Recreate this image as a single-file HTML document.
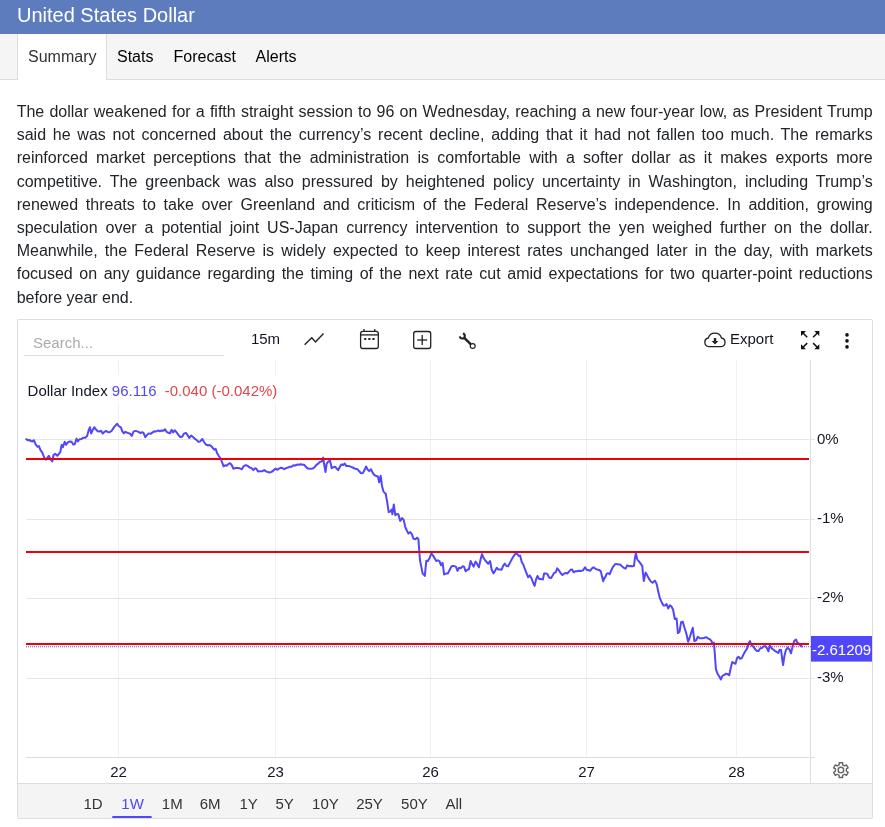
<!DOCTYPE html>
<html><head><meta charset="utf-8">
<style>
*{box-sizing:border-box}
html,body{margin:0;padding:0;background:#fff}
body{width:885px;height:827px;overflow:hidden;font-family:"Liberation Sans",Arial,sans-serif;color:#212529;position:relative}
#hdr{position:absolute;left:0;top:0;width:885px;height:34px;background:#5c7cbe}
#hdr span{position:absolute;left:17px;top:3px;font-size:20px;line-height:24px;color:#fff}
#tabs{position:absolute;left:0;top:34px;width:885px;height:46px;background:#f5f5f5;border-bottom:1px solid #ddd}
#tabs .act{position:absolute;left:17px;top:0;width:90px;height:46px;background:#fff;border-left:1px solid #ddd;border-right:1px solid #ddd}
#tabs span{position:absolute;top:13px;font-size:16px;line-height:20px;color:#000}
#para{position:absolute;left:16.7px;top:100px;width:856px;font-size:16px;line-height:23.2px;text-align:justify;color:#212529;margin:0}
#chart{position:absolute;left:17px;top:319px;width:856px;height:500px;border:1px solid #dcdfe2;border-radius:2px;background:#fff;overflow:hidden}
#rbar{position:absolute;left:0;top:463px;width:854px;height:35px;background:#f4f4f4;border-top:1px solid #ddd}
#g{position:absolute;left:0;top:0;width:885px;height:827px}
#g text{font-family:"Liberation Sans",Arial,sans-serif;font-size:15px;fill:#131722}
</style></head><body>
<div id="hdr"><span>United States Dollar</span></div>
<div id="tabs"><div class="act"></div>
<span style="left:28px;color:#333">Summary</span><span style="left:117px">Stats</span><span style="left:173.6px">Forecast</span><span style="left:255.5px">Alerts</span></div>
<p id="para">The dollar weakened for a fifth straight session to 96 on Wednesday, reaching a new four-year low, as President Trump said he was not concerned about the currency’s recent decline, adding that it had not fallen too much. The remarks reinforced market perceptions that the administration is comfortable with a softer dollar as it makes exports more competitive. The greenback was also pressured by heightened policy uncertainty in Washington, including Trump’s renewed threats to take over Greenland and criticism of the Federal Reserve’s independence. In addition, growing speculation over a potential joint US-Japan currency intervention to support the yen weighed further on the dollar. Meanwhile, the Federal Reserve is widely expected to keep interest rates unchanged later in the day, with markets focused on any guidance regarding the timing of the next rate cut amid expectations for two quarter-point reductions before year end.</p>
<div id="chart"><div id="rbar"></div></div>
<svg id="g" viewBox="0 0 885 827">
<rect x="24" y="355" width="200" height="1" fill="#ddd"/>
<text x="33" y="347.8" style="fill:#aaa">Search...</text>
<text x="250.9" y="344.3">15m</text>
<text x="730" y="344.4">Export</text>
<rect x="118" y="360" width="1" height="397" fill="#edf1f5"/>
<rect x="275" y="360" width="1" height="397" fill="#edf1f5"/>
<rect x="430" y="360" width="1" height="397" fill="#edf1f5"/>
<rect x="586" y="360" width="1" height="397" fill="#edf1f5"/>
<rect x="736" y="360" width="1" height="397" fill="#edf1f5"/>
<rect x="26" y="439" width="783" height="1" fill="#e6e6e6"/>
<rect x="811" y="439" width="4" height="1" fill="#e6e6e6"/>
<rect x="26" y="519" width="783" height="1" fill="#e6e6e6"/>
<rect x="811" y="519" width="4" height="1" fill="#e6e6e6"/>
<rect x="26" y="598" width="783" height="1" fill="#e6e6e6"/>
<rect x="811" y="598" width="4" height="1" fill="#e6e6e6"/>
<rect x="26" y="678" width="783" height="1" fill="#e6e6e6"/>
<rect x="811" y="678" width="4" height="1" fill="#e6e6e6"/>
<rect x="26" y="757" width="783" height="1" fill="#ddd"/>
<rect x="811" y="757" width="4" height="1" fill="#ddd"/>
<rect x="810" y="360" width="1" height="423" fill="#ddd"/>
<rect x="26" y="375" width="256" height="28" fill="#fff"/>
<text x="27.6" y="396">Dollar Index <tspan fill="#5147fa">96.116</tspan> <tspan dx="4" fill="#e0474c">-0.040 (-0.042%)</tspan></text>
<line x1="26" y1="646.5" x2="811" y2="646.5" stroke="#5147fa" stroke-width="1" stroke-dasharray="1 1" opacity="0.75"/>
<line x1="26" y1="647.5" x2="811" y2="647.5" stroke="#5147fa" stroke-width="1" stroke-dasharray="1 1" opacity="0.2"/>
<polyline fill="none" stroke="#5147fa" stroke-width="2" stroke-linejoin="round" stroke-linecap="round" points="26.2,439.2 27.7,440.2 29.3,439.9 30.9,441.1 32.4,441.4 33.9,440.2 35.5,444.2 37.4,446.7 38.9,446.1 40.5,450.1 42.4,452.9 44.2,457.3 45.9,459.7 47.3,457.9 48.8,455.8 50.5,459.1 52.3,461.4 53.6,454.8 55.2,453.8 57.3,455.8 59.2,453.5 60.4,451.7 61.6,444.8 62.9,447.3 64.7,441.7 66.2,444.8 67.9,442.3 69.7,441.4 71.6,441.7 73.4,444.6 74.7,444.2 76.6,438.6 77.8,441.4 79.7,439.2 81.5,438.9 83.4,437.7 85.3,437.7 87.1,436.1 88.4,431.2 89.9,427.2 91.2,433.6 92.7,429.9 94.3,427.2 95.8,429.3 97.7,431.2 99.5,431.4 101.0,430.8 102.7,433.6 104.5,431.8 106.0,430.9 107.6,432.0 109.5,432.2 111.4,431.2 113.2,428.4 115.1,425.9 117.2,423.7 118.8,426.2 120.9,427.4 122.2,431.2 123.8,433.4 125.4,431.8 126.5,432.4 128.1,433.0 130.0,433.6 131.8,435.9 133.7,431.4 135.6,430.9 137.4,431.4 139.3,432.4 140.5,433.0 142.4,432.2 143.6,433.0 145.3,437.1 147.1,434.9 148.6,433.4 150.5,433.9 152.3,432.6 154.2,431.2 156.1,431.5 157.9,430.5 159.8,431.2 161.7,430.5 163.5,430.8 165.0,429.3 166.6,431.8 168.5,432.8 170.0,433.3 171.6,429.9 173.2,432.4 174.7,430.2 176.6,432.4 178.4,434.9 180.3,437.0 182.2,436.8 184.0,433.6 185.9,432.8 187.5,434.9 189.3,438.0 191.1,435.5 192.7,436.8 194.6,438.6 196.5,439.9 198.3,441.7 200.2,441.4 202.3,439.0 203.9,441.7 205.8,444.5 207.7,445.2 209.5,445.1 211.4,446.1 213.2,448.6 214.5,449.8 215.7,448.8 217.0,452.9 218.8,456.0 220.5,458.3 221.9,461.6 223.6,466.3 225.1,465.3 226.7,465.7 228.2,464.1 230.0,463.2 231.5,464.8 233.5,468.8 235.6,467.9 237.5,467.9 239.7,468.3 241.8,469.2 243.7,466.1 245.9,465.1 248.0,466.1 249.9,467.6 251.8,468.3 253.4,470.1 254.9,468.3 256.4,468.8 258.0,471.4 259.8,471.3 262.1,471.3 264.2,470.1 266.0,471.4 267.9,472.0 269.8,472.5 271.6,471.9 273.5,470.4 275.7,468.6 277.2,469.8 279.1,468.6 281.0,467.7 282.8,468.3 284.4,469.2 286.2,467.9 288.2,467.6 289.7,466.7 291.5,466.7 293.4,465.2 295.3,465.5 297.1,464.6 299.0,464.8 300.8,464.2 302.7,464.8 304.3,464.8 306.1,467.1 308.1,468.6 310.2,468.8 312.7,468.6 314.5,467.3 316.4,464.8 318.2,463.6 320.1,461.7 321.7,461.4 323.2,457.6 324.2,464.8 325.5,472.0 326.7,463.6 328.2,461.7 330.1,460.7 331.7,468.3 333.4,467.1 335.0,466.7 336.5,468.3 338.1,470.2 339.7,467.3 341.2,464.6 343.1,464.9 344.7,463.6 346.2,465.9 348.1,465.9 349.9,466.4 351.8,467.1 353.6,468.0 355.5,468.8 357.4,469.2 359.2,471.3 361.1,473.3 363.0,472.9 364.6,469.8 366.1,466.5 367.6,469.6 369.2,471.1 371.0,469.2 372.3,472.1 374.2,474.8 376.0,476.0 377.9,476.4 379.1,482.3 380.7,475.8 382.0,486.0 383.5,491.6 385.7,493.7 387.0,500.9 388.7,512.1 390.3,511.5 391.6,509.6 392.4,514.3 393.8,504.4 395.3,515.2 396.9,514.0 398.4,514.3 400.2,520.9 402.2,518.1 403.7,519.9 405.2,526.8 406.8,530.5 408.4,533.6 410.2,532.1 411.8,534.2 413.6,538.8 415.5,539.2 417.1,537.6 418.4,539.2 419.2,549.8 419.9,559.7 421.1,565.9 422.6,573.4 424.8,575.9 426.3,560.7 427.9,561.0 429.6,557.9 431.3,553.5 432.9,555.4 434.5,557.9 436.3,561.0 437.9,560.3 439.5,561.2 441.0,565.3 442.6,562.8 444.1,574.4 446.0,573.6 447.8,573.6 449.7,569.7 451.6,566.2 453.4,565.9 455.9,566.6 457.5,570.9 459.0,567.8 460.9,568.2 462.7,566.2 464.0,566.6 465.6,571.2 467.3,569.9 469.0,569.0 470.6,561.0 472.1,564.1 473.6,566.6 475.5,561.6 477.0,563.7 478.9,567.4 480.5,559.7 482.0,554.1 483.5,557.9 485.7,561.0 488.2,563.7 490.1,561.0 491.7,569.7 493.4,573.4 495.1,570.9 496.7,567.8 498.4,569.4 500.4,569.4 501.5,569.8 503.1,566.0 504.7,563.6 506.5,566.0 508.1,566.3 509.9,562.9 511.8,559.2 513.7,556.1 515.5,553.6 517.4,553.9 518.6,555.9 520.1,555.5 521.8,562.3 523.4,564.8 524.9,569.2 526.4,572.9 528.0,577.2 529.8,575.4 531.7,578.7 532.9,582.2 534.6,585.9 536.0,579.7 537.5,576.0 539.2,579.1 541.0,579.1 542.9,579.5 544.1,573.5 546.0,573.5 547.5,574.1 549.1,577.5 551.0,578.1 552.5,575.7 554.1,572.9 555.7,572.3 557.2,568.3 559.0,570.4 560.7,573.3 562.4,575.0 564.4,573.5 565.9,572.9 567.4,573.5 569.0,571.6 570.6,569.8 572.1,569.5 573.6,572.3 575.2,571.3 577.1,571.3 578.9,570.8 580.8,571.0 583.0,570.4 585.1,567.3 586.8,570.0 588.2,570.0 590.1,570.8 592.0,568.3 593.5,567.3 595.5,568.8 597.2,569.5 599.2,570.0 600.9,571.6 601.9,576.0 603.2,581.2 604.7,577.2 605.0,577.9 606.6,573.9 608.3,573.3 609.7,574.3 611.4,569.9 613.2,566.6 615.0,564.3 616.7,563.9 618.3,564.6 620.3,564.6 622.0,566.3 623.9,567.9 625.6,568.6 627.3,565.3 628.9,566.2 630.9,565.9 632.7,566.2 634.0,565.9 634.9,558.0 635.9,553.3 637.2,559.3 638.9,561.3 640.6,563.7 642.2,565.9 643.8,581.0 645.6,572.6 647.3,575.6 649.2,579.2 650.9,581.5 652.6,582.8 654.9,580.6 656.6,583.9 658.2,591.2 659.8,597.9 661.5,601.9 663.5,605.6 665.1,605.4 666.6,604.1 668.2,608.5 669.9,605.2 671.5,606.5 673.1,609.8 674.8,619.1 676.6,618.5 677.9,633.1 679.5,631.8 681.1,622.2 682.8,621.8 684.5,627.8 686.4,633.8 688.1,641.8 690.1,636.4 691.5,631.8 692.8,627.8 694.4,641.1 696.1,640.4 697.8,636.8 699.7,638.2 701.8,638.2 704.1,638.0 705.0,637.4 706.5,637.2 708.1,638.6 710.0,639.3 711.5,641.1 712.7,644.2 713.9,642.6 714.9,654.8 715.9,669.1 717.4,673.4 719.3,676.6 720.9,679.4 722.4,675.9 724.3,674.9 726.1,673.7 727.6,674.1 729.2,675.3 730.9,667.2 732.3,662.0 733.8,662.9 735.5,663.8 737.1,657.9 738.6,656.7 740.1,658.8 741.7,658.3 743.3,654.8 745.0,651.7 747.0,648.6 748.5,643.6 750.0,641.1 751.6,645.5 753.5,646.7 755.3,649.6 757.0,651.1 758.4,651.1 760.3,648.3 761.9,648.0 763.4,646.4 765.3,646.1 766.9,648.0 768.4,651.3 769.9,645.5 771.9,648.6 773.6,649.8 775.2,651.1 777.1,652.1 778.3,652.9 779.6,649.8 781.1,650.1 782.1,658.5 783.1,665.0 784.5,655.4 786.0,649.8 787.7,647.6 789.3,649.2 791.0,653.3 792.6,646.4 794.2,641.1 796.0,639.5 797.2,642.4 798.8,643.6 800.5,645.5 801.9,646.4"/>
<rect x="26" y="458" width="783" height="2" fill="#ee0008"/>
<rect x="26" y="551" width="783" height="2" fill="#ee0008"/>
<rect x="26" y="643" width="783" height="2" fill="#ee0008"/>
<text x="817" y="443.8">0%</text>
<text x="817" y="522.8">-1%</text>
<text x="817" y="601.9">-2%</text>
<text x="817" y="681.9">-3%</text>
<rect x="811" y="636" width="61" height="25.6" fill="#5147fa"/>
<text x="812" y="654.8" style="fill:#fff">-2.61209</text>
<text x="118.5" y="776.7" text-anchor="middle">22</text>
<text x="275.5" y="776.7" text-anchor="middle">23</text>
<text x="430.5" y="776.7" text-anchor="middle">26</text>
<text x="586.5" y="776.7" text-anchor="middle">27</text>
<text x="736.5" y="776.7" text-anchor="middle">28</text>
<text x="83.5" y="809" style="fill:#333">1D</text>
<text x="121.3" y="809" style="fill:#5147fa">1W</text>
<text x="161.8" y="809" style="fill:#333">1M</text>
<text x="199.7" y="809" style="fill:#333">6M</text>
<text x="239.4" y="809" style="fill:#333">1Y</text>
<text x="275.4" y="809" style="fill:#333">5Y</text>
<text x="312.1" y="809" style="fill:#333">10Y</text>
<text x="356.2" y="809" style="fill:#333">25Y</text>
<text x="401.1" y="809" style="fill:#333">50Y</text>
<text x="445.5" y="809" style="fill:#333">All</text>
<rect x="112.3" y="816" width="39.3" height="2" fill="#5147fa"/>
<polyline fill="none" stroke="#222" stroke-width="1.4" points="304.6,344.7 311.8,337.8 315.5,341.9 323.5,333.4"/>
<g fill="none" stroke="#222" stroke-width="1.3"><rect x="360.6" y="331.4" width="17.7" height="17.1" rx="2.2"/><line x1="360.6" y1="334.9" x2="378.4" y2="334.9"/><line x1="364" y1="329" x2="364" y2="331.5"/><line x1="374.8" y1="329" x2="374.8" y2="331.5"/></g>
<g fill="#222"><rect x="364.2" y="338" width="2.1" height="2"/><rect x="368.3" y="338" width="2.1" height="2"/><rect x="372.4" y="338" width="2.1" height="2"/></g>
<g fill="none" stroke="#222" stroke-width="1.3"><rect x="413.7" y="331.5" width="17" height="17" rx="2.2"/><line x1="417.2" y1="340" x2="427.2" y2="340"/><line x1="422.2" y1="335" x2="422.2" y2="345"/></g>
<g fill="none" stroke="#222"><path d="M462.95,333.59 A2.5,2.5 0 1 1 459.82,336.35" stroke-width="2.1"/><line x1="464" y1="337.6" x2="470.9" y2="344.3" stroke-width="2.5"/><circle cx="472.7" cy="346" r="2.45" stroke-width="1.2"/></g>
<path d="M708.9,346.6 A4.35,4.35 0 0 1 708.3,338 A6.9,6.9 0 0 1 721.5,338 A4.35,4.35 0 0 1 721.1,346.6 Z" fill="none" stroke="#222" stroke-width="1.3" stroke-linejoin="round"/>
<path d="M713.8,338 h2.4 v3 h2.2 l-3.4,3.4 l-3.4,-3.4 h2.2 Z" fill="#222"/>
<line x1="807.2" y1="337.2" x2="802.5" y2="332.5" stroke="#111" stroke-width="1.5"/><path d="M801,331 L806,331 L801,336 Z" fill="#111"/><line x1="813.0999999999999" y1="337.2" x2="817.8" y2="332.5" stroke="#111" stroke-width="1.5"/><path d="M819.3,331 L814.3,331 L819.3,336 Z" fill="#111"/><line x1="807.2" y1="343.1" x2="802.5" y2="347.8" stroke="#111" stroke-width="1.5"/><path d="M801,349.3 L806,349.3 L801,344.3 Z" fill="#111"/><line x1="813.0999999999999" y1="343.1" x2="817.8" y2="347.8" stroke="#111" stroke-width="1.5"/><path d="M819.3,349.3 L814.3,349.3 L819.3,344.3 Z" fill="#111"/>
<circle cx="847" cy="334.9" r="1.8" fill="#111"/>
<circle cx="847" cy="340.9" r="1.8" fill="#111"/>
<circle cx="847" cy="346.9" r="1.8" fill="#111"/>
<path d="M839.16,762.70 L842.64,762.70 L842.63,764.77 L844.65,765.94 L846.44,764.90 L848.18,767.90 L846.38,768.94 L846.38,771.26 L848.18,772.30 L846.44,775.30 L844.65,774.26 L842.63,775.43 L842.64,777.50 L839.16,777.50 L839.17,775.43 L837.15,774.26 L835.36,775.30 L833.62,772.30 L835.42,771.26 L835.42,768.94 L833.62,767.90 L835.36,764.90 L837.15,765.94 L839.17,764.77 Z" fill="none" stroke="#666" stroke-width="1.4" stroke-linejoin="round"/><circle cx="840.9" cy="770.1" r="2.8" fill="none" stroke="#666" stroke-width="1.4"/>
</svg>
</body></html>
